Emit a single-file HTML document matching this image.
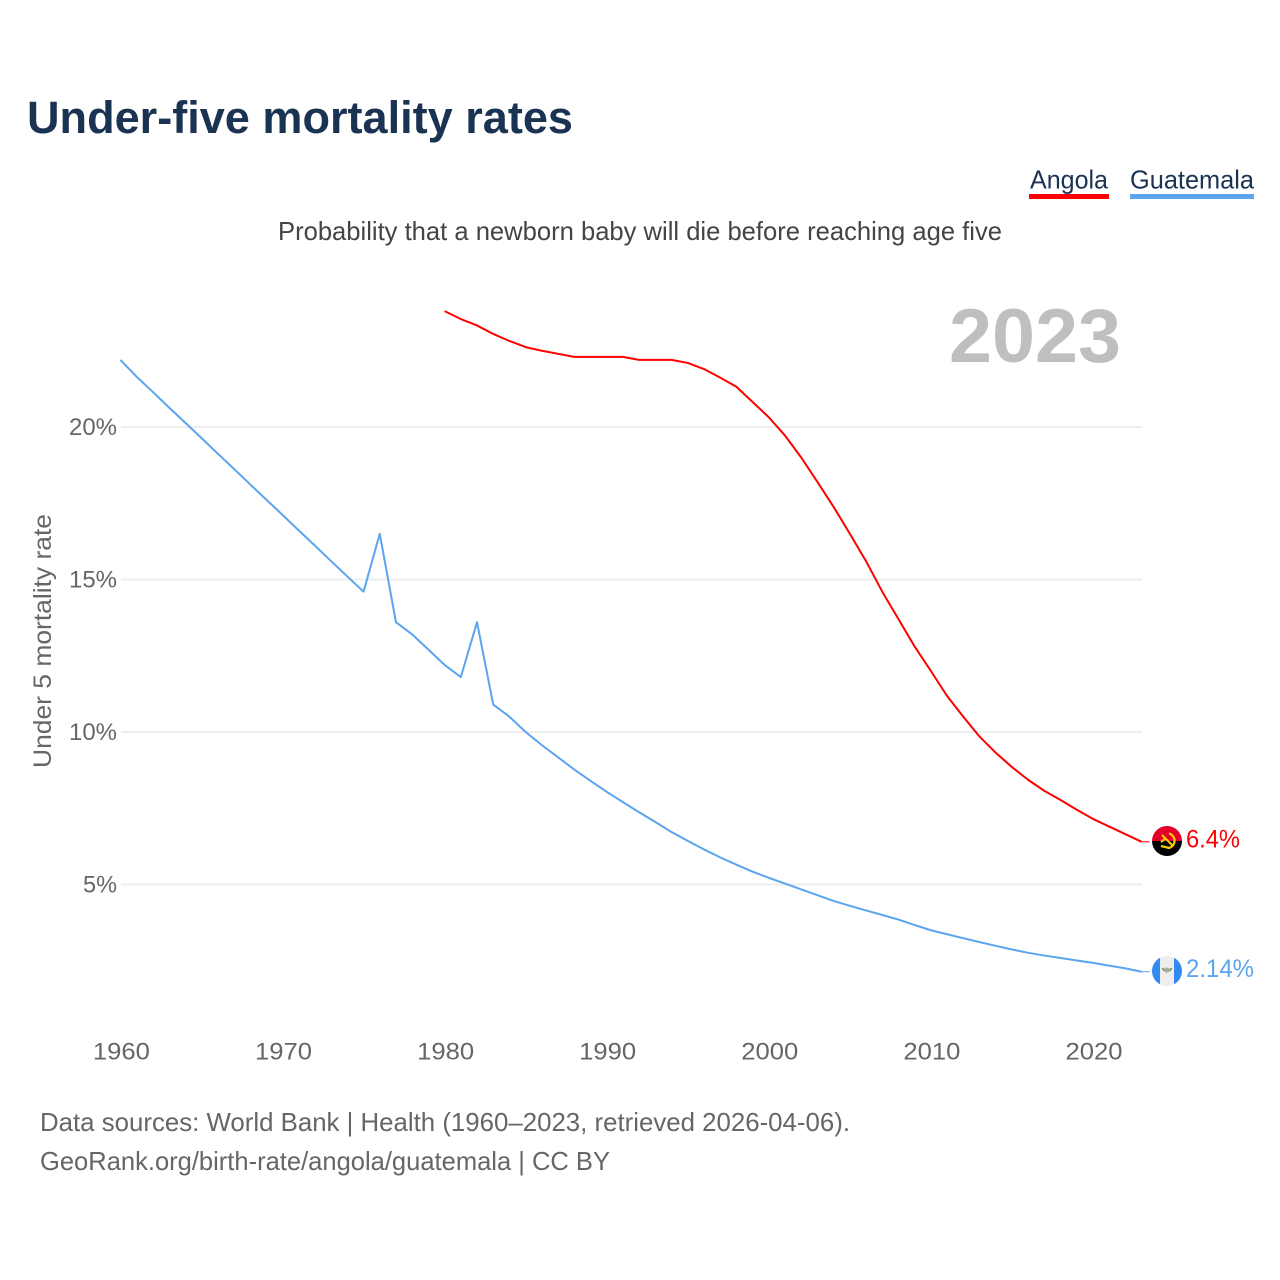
<!DOCTYPE html>
<html lang="en">
<head>
<meta charset="utf-8">
<title>Under-five mortality rates</title>
<style>
html,body{margin:0;padding:0;background:#fff;}
svg{display:block;}
text{font-family:"Liberation Sans",sans-serif;}
</style>
</head>
<body>
<svg id="chart" xmlns="http://www.w3.org/2000/svg" width="1280" height="1280" viewBox="0 0 1280 1280">
  <rect x="0" y="0" width="1280" height="1280" fill="#ffffff"/>
  <text x="27" y="133" font-size="45" font-weight="700" fill="#1b3353" textLength="546" lengthAdjust="spacingAndGlyphs">Under-five mortality rates</text>
  <g>
    <text x="1030" y="188.5" font-size="26" fill="#1b3353" textLength="78" lengthAdjust="spacingAndGlyphs">Angola</text>
    <rect x="1029" y="194" width="80" height="5" fill="#ff0000"/>
  </g>
  <g>
    <text x="1130" y="188.5" font-size="26" fill="#1b3353" textLength="124" lengthAdjust="spacingAndGlyphs">Guatemala</text>
    <rect x="1130" y="194" width="124" height="5" fill="#5ba4ef"/>
  </g>
  <text x="278" y="240" font-size="26" fill="#444444" textLength="724" lengthAdjust="spacingAndGlyphs">Probability that a newborn baby will die before reaching age five</text>
  <text x="949" y="362" font-size="76" font-weight="700" fill="#bfbfbf" textLength="172" lengthAdjust="spacingAndGlyphs">2023</text>
  <text transform="translate(51,768) rotate(-90)" x="0" y="0" font-size="25" fill="#666666" textLength="254" lengthAdjust="spacingAndGlyphs">Under 5 mortality rate</text>
  <g id="grid"></g>
  <g id="yticks"></g>
  <g id="xticks"></g>
  <g id="series"></g>
  <g>
    <clipPath id="clipA"><circle cx="1167" cy="841" r="15"/></clipPath>
    <g clip-path="url(#clipA)">
      <rect x="1152" y="826" width="30" height="15" fill="#e4002b"/>
      <rect x="1152" y="841" width="30" height="15" fill="#000000"/>
      <path d="M1169 833.5 A7.5 7.5 0 0 1 1169 848 L1161 846" fill="none" stroke="#ffcb00" stroke-width="2.2"/>
      <path d="M1162 835 L1172 845" fill="none" stroke="#ffcb00" stroke-width="2"/>
      <path d="M1161 842 L1166 838" fill="none" stroke="#ffcb00" stroke-width="2.2"/>
    </g>
  </g>
  <g>
    <clipPath id="clipG"><circle cx="1167" cy="971" r="15"/></clipPath>
    <g clip-path="url(#clipG)">
      <rect x="1152" y="956" width="30" height="30" fill="#eeeeee"/>
      <rect x="1152" y="956" width="8" height="30" fill="#338af3"/>
      <rect x="1174" y="956" width="8" height="30" fill="#338af3"/>
      <path d="M1162.5 968 A5 5.5 0 0 0 1171.5 968" fill="none" stroke="#6da544" stroke-width="2"/>
      <circle cx="1167" cy="970" r="2.6" fill="#a9a9a9"/>
    </g>
  </g>
  <text x="40" y="1131" font-size="26" fill="#666666" textLength="810" lengthAdjust="spacingAndGlyphs">Data sources: World Bank | Health (1960–2023, retrieved 2026-04-06).</text>
  <text x="40" y="1170" font-size="26" fill="#666666" textLength="570" lengthAdjust="spacingAndGlyphs">GeoRank.org/birth-rate/angola/guatemala | CC BY</text>
</svg>
<script>
const xTickYears = [1960, 1970, 1980, 1990, 2000, 2010, 2020];
const yTickValues = [5, 10, 15, 20];
const angolaStartYear = 1980;
const angolaValues = [23.8,23.54,23.33,23.05,22.82,22.62,22.5,22.4,22.3,22.3,22.3,22.3,22.2,22.2,22.2,22.1,21.9,21.62,21.32,20.82,20.32,19.72,19.0,18.2,17.38,16.5,15.6,14.6,13.7,12.8,12.0,11.18,10.5,9.85,9.32,8.85,8.43,8.07,7.77,7.45,7.15,6.9,6.65,6.4];
const guatemalaStartYear = 1960;
const guatemalaValues = [22.2,21.65,21.15,20.64,20.14,19.64,19.13,18.63,18.12,17.62,17.12,16.61,16.11,15.6,15.1,14.6,16.5,13.6,13.2,12.7,12.2,11.8,13.6,10.9,10.5,10.0,9.57,9.17,8.77,8.4,8.04,7.7,7.37,7.05,6.72,6.43,6.15,5.89,5.65,5.42,5.22,5.03,4.84,4.65,4.46,4.3,4.15,4.0,3.85,3.67,3.5,3.37,3.24,3.11,2.99,2.87,2.76,2.67,2.59,2.51,2.43,2.34,2.25,2.14];

const NS = 'http://www.w3.org/2000/svg';
function xScale(year){ return 120.4 + (year - 1960) * 16.21; }
function yScale(v){ return 884.5 - (v - 5) * 30.5; }
function make(tag, attrs, parent, text){
  const el = document.createElementNS(NS, tag);
  for (const k in attrs) el.setAttribute(k, attrs[k]);
  if (text !== undefined) el.textContent = text;
  parent.appendChild(el);
  return el;
}
const gridG = document.getElementById('grid');
const yG = document.getElementById('yticks');
const xG = document.getElementById('xticks');
const seriesG = document.getElementById('series');

yTickValues.forEach(function(v){
  const line = make('line', {x1:121, x2:1142, y1:yScale(v), y2:yScale(v), stroke:'#eeeeee', 'stroke-width':2}, gridG);
  
  
  const label = v + '%';
  const t = make('text', {x:117, y:yScale(v)+8, 'text-anchor':'end', 'font-size':24, fill:'#666666', textLength:label.length === 2 ? 34 : 48, lengthAdjust:'spacingAndGlyphs'}, yG, label);
  
  
});
xTickYears.forEach(function(y){
  const t = make('text', {x:xScale(y)+1, y:1059.5, 'text-anchor':'middle', 'font-size':24, fill:'#666666', textLength:57, lengthAdjust:'spacingAndGlyphs'}, xG, String(y));
  
  
});
function linePath(startYear, values){
  return values.map(function(v,i){
    return (i ? 'L' : 'M') + xScale(startYear + i).toFixed(2) + ' ' + yScale(v).toFixed(2);
  }).join(' ');
}
function drawSeries(name, startYear, values, color, labelWidth){
  const p = make('path', {d:linePath(startYear, values), fill:'none', stroke:color, 'stroke-width':2, 'stroke-linejoin':'round'}, seriesG);
  
  
  const last = values[values.length - 1];
  const lastX = xScale(startYear + values.length - 1);
  const leader = make('line', {x1:lastX, x2:lastX + 8, y1:yScale(last), y2:yScale(last), stroke:color, 'stroke-width':1}, seriesG);
  
  
  const lab = make('text', {x:1186, y:yScale(last)+5.5, 'font-size':25, fill:color, textLength:labelWidth, lengthAdjust:'spacingAndGlyphs'}, seriesG, last + '%');
  
  
}
drawSeries('angola', angolaStartYear, angolaValues, '#ff0000', 54);
drawSeries('guatemala', guatemalaStartYear, guatemalaValues, '#5ba4ef', 68);
</script>
</body>
</html>
